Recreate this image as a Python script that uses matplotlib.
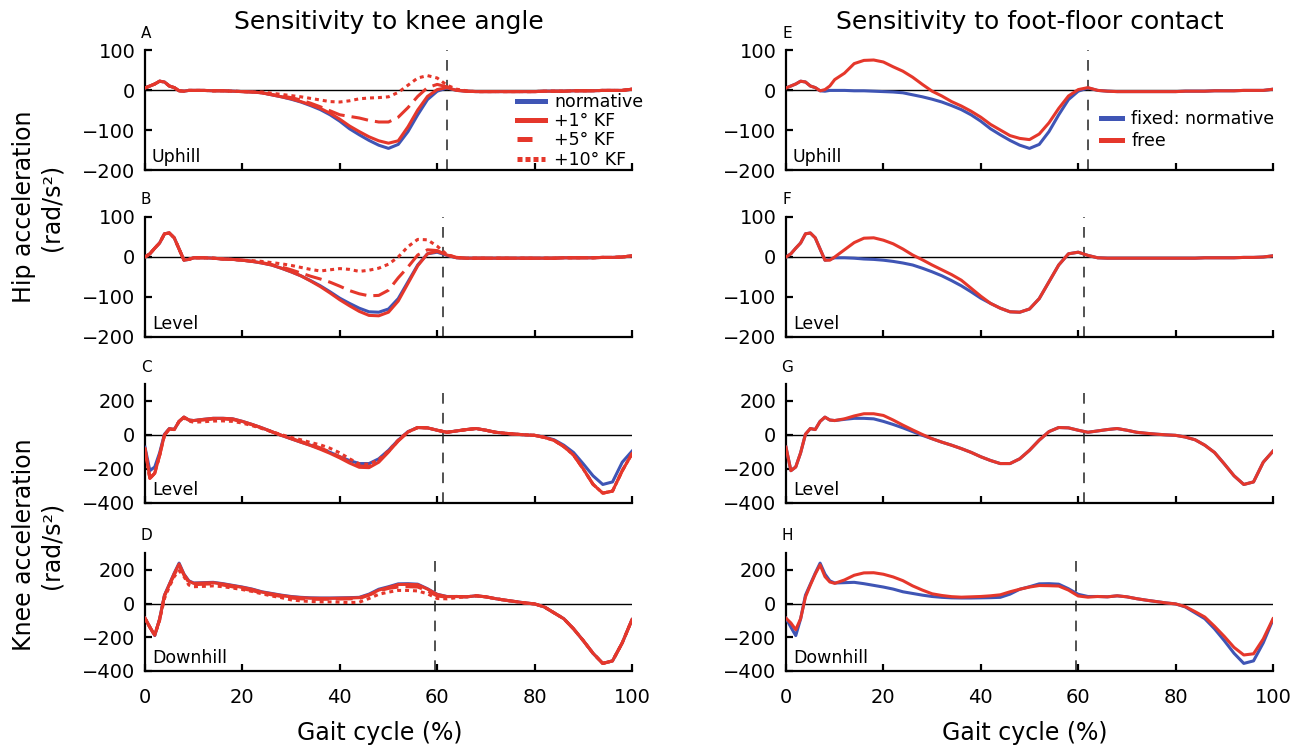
import matplotlib
matplotlib.use("Agg")
import matplotlib.pyplot as plt
from matplotlib.lines import Line2D

# ---------------- data ----------------
gait = [0, 1, 2, 3, 4, 5, 6, 7, 8, 9, 10,
        12, 14, 16, 18, 20, 22, 24, 26, 28, 30,
        32, 34, 36, 38, 40, 42, 44, 46, 48, 50,
        52, 54, 56, 58, 60, 62, 64, 66, 68, 70,
        72, 74, 76, 78, 80, 82, 84, 86, 88, 90,
        92, 94, 96, 98, 100]

hip_up_norm = [5, 10, 15, 22, 20, 10, 6, -2, -3, -1, -1,
               -1, -2, -2, -3, -4, -5, -7, -12, -17, -23,
               -30, -39, -49, -62, -78, -97, -112, -126, -138, -146,
               -136, -104, -62, -24, -3, 5, -1, -3, -4, -4,
               -4, -4, -4, -4, -4, -3, -3, -3, -2, -2,
               -2, -1, -1, -1, 2]
hip_up_kf1 = [5, 10, 15, 22, 20, 10, 6, -2, -3, -1, -1,
              -1, -2, -2, -3, -4, -5, -7, -12, -17, -22,
              -29, -37, -46, -58, -73, -90, -104, -117, -127, -133,
              -127, -92, -50, -16, 1, 6, -1, -3, -4, -4,
              -4, -4, -4, -4, -4, -3, -3, -3, -2, -2,
              -2, -1, -1, -1, 2]
hip_up_kf5 = [5, 10, 15, 22, 20, 10, 6, -2, -3, -1, -1,
              -1, -2, -2, -3, -4, -5, -7, -11, -15, -19,
              -25, -33, -42, -52, -62, -66, -70, -76, -80, -80,
              -68, -44, -16, 6, 14, 8, 0, -3, -4, -4,
              -4, -4, -4, -4, -4, -3, -3, -3, -2, -2,
              -2, -1, -1, -1, 2]
hip_up_kf10 = [5, 10, 15, 22, 20, 10, 6, -2, -3, -1, -1,
               -1, -2, -2, -3, -4, -5, -5, -8, -11, -14,
               -17, -21, -25, -29, -30, -27, -22, -20, -19, -17,
               -6, 12, 30, 36, 30, 12, 2, -2, -4, -4,
               -4, -4, -4, -4, -4, -3, -3, -3, -2, -2,
               -2, -1, -1, -1, 2]
hip_up_free = [5, 10, 15, 22, 20, 10, 6, -2, 1, 10, 26,
               42, 66, 74, 75, 70, 58, 47, 32, 14, -3,
               -15, -29, -40, -53, -68, -86, -100, -114, -121, -124,
               -110, -82, -46, -15, 1, 6, -1, -3, -4, -4,
               -4, -4, -4, -4, -4, -3, -3, -3, -2, -2,
               -2, -1, -1, -1, 2]

hip_lvl_norm = [0, 8, 22, 35, 58, 60, 48, 20, -8, -6, -2,
                -2, -3, -5, -6, -8, -11, -15, -20, -28, -37,
                -47, -59, -72, -87, -103, -116, -128, -137, -138, -130,
                -104, -62, -20, 8, 12, 4, -2, -3, -3, -3,
                -3, -3, -3, -3, -3, -3, -3, -2, -2, -2,
                -2, -1, -1, 0, 3]
hip_lvl_kf1 = [0, 8, 22, 35, 58, 60, 48, 20, -8, -6, -2,
               -2, -3, -5, -6, -8, -11, -15, -20, -28, -37,
               -47, -60, -74, -90, -107, -122, -136, -146, -147, -138,
               -110, -66, -22, 8, 14, 5, -2, -3, -3, -3,
               -3, -3, -3, -3, -3, -3, -3, -2, -2, -2,
               -2, -1, -1, 0, 3]
hip_lvl_kf5 = [0, 8, 22, 35, 58, 60, 48, 20, -8, -6, -2,
               -2, -3, -5, -6, -8, -11, -14, -19, -25, -32,
               -40, -48, -55, -63, -73, -84, -92, -97, -96, -83,
               -52, -25, 5, 18, 16, 5, -1, -3, -3, -3,
               -3, -3, -3, -3, -3, -3, -3, -2, -2, -2,
               -2, -1, -1, 0, 3]
hip_lvl_kf10 = [0, 8, 22, 35, 58, 60, 48, 20, -8, -6, -2,
                -2, -3, -5, -6, -8, -9, -11, -14, -17, -21,
                -26, -31, -35, -32, -29, -31, -36, -33, -28, -18,
                0, 26, 44, 43, 27, 6, -1, -3, -3, -3,
                -3, -3, -3, -3, -3, -3, -3, -2, -2, -2,
                -2, -1, -1, 0, 3]
hip_lvl_free = [0, 8, 22, 35, 58, 60, 48, 20, -8, -8, 0,
                18, 36, 47, 48, 42, 33, 20, 5, -7, -20,
                -32, -44, -58, -78, -98, -116, -128, -137, -138, -130,
                -104, -62, -20, 8, 12, 4, -2, -3, -3, -3,
                -3, -3, -3, -3, -3, -3, -3, -2, -2, -2,
                -2, -1, -1, 0, 3]

knee_lvl_norm = [-72, -210, -188, -105, 5, 38, 32, 80, 105, 88, 85,
                 92, 98, 98, 95, 80, 62, 42, 20, -2, -22,
                 -42, -60, -80, -102, -128, -150, -168, -168, -140, -90,
                 -30, 20, 44, 42, 28, 16, 24, 32, 38, 28,
                 16, 10, 5, 1, -2, -12, -28, -60, -103, -170,
                 -240, -291, -276, -160, -95]
knee_lvl_kf1 = [-80, -255, -225, -120, 0, 36, 32, 80, 105, 88, 85,
                92, 98, 98, 95, 80, 62, 42, 20, -2, -22,
                -42, -62, -84, -108, -135, -165, -190, -192, -160, -100,
                -35, 18, 44, 42, 28, 16, 24, 32, 38, 28,
                16, 10, 5, 1, -2, -14, -32, -68, -118, -200,
                -290, -342, -330, -210, -110]
knee_lvl_kf5 = [-80, -255, -225, -120, 0, 36, 32, 80, 105, 88, 85,
                88, 94, 94, 91, 77, 60, 41, 19, -2, -20,
                -38, -55, -76, -100, -128, -160, -182, -186, -155, -98,
                -34, 18, 44, 42, 28, 16, 24, 32, 38, 28,
                16, 10, 5, 1, -2, -14, -32, -68, -118, -200,
                -290, -342, -330, -210, -110]
knee_lvl_kf10 = [-80, -255, -225, -120, 0, 36, 32, 80, 100, 82, 75,
                 78, 82, 83, 80, 70, 55, 38, 20, 2, -14,
                 -28, -44, -58, -78, -105, -140, -170, -172, -145, -92,
                 -30, 18, 44, 42, 28, 16, 24, 32, 38, 28,
                 16, 10, 5, 1, -2, -14, -32, -68, -118, -200,
                 -290, -342, -330, -210, -110]
knee_lvl_free = [-72, -210, -188, -105, 5, 38, 32, 80, 105, 88, 85,
                 95, 112, 125, 125, 115, 88, 58, 30, 3, -22,
                 -42, -60, -80, -102, -128, -150, -168, -168, -140, -90,
                 -30, 20, 44, 42, 28, 16, 24, 32, 38, 28,
                 16, 10, 5, 1, -2, -12, -28, -60, -103, -170,
                 -240, -291, -276, -160, -95]

knee_dn_norm = [-87, -140, -190, -91, 50, 115, 180, 240, 175, 135, 122,
                124, 126, 118, 108, 98, 86, 70, 60, 50, 42,
                37, 34, 33, 33, 34, 35, 37, 56, 85, 100,
                117, 118, 115, 88, 55, 42, 42, 40, 46, 40,
                29, 20, 12, 4, -2, -20, -55, -90, -150, -220,
                -295, -355, -340, -233, -95]
knee_dn_kf1 = [-87, -140, -188, -93, 48, 112, 178, 235, 172, 132, 120,
               122, 124, 116, 106, 96, 84, 68, 58, 48, 40,
               35, 32, 31, 31, 32, 33, 35, 52, 80, 96,
               113, 114, 112, 86, 54, 41, 42, 40, 46, 40,
               29, 20, 12, 4, -2, -20, -55, -90, -150, -220,
               -295, -355, -340, -233, -95]
knee_dn_kf5 = [-87, -140, -188, -95, 45, 110, 170, 225, 170, 125, 112,
               115, 117, 110, 99, 88, 77, 62, 52, 42, 33,
               28, 26, 25, 26, 27, 28, 30, 50, 75, 90,
               98, 100, 98, 75, 45, 38, 42, 40, 46, 40,
               29, 20, 12, 4, -2, -20, -55, -90, -150, -220,
               -295, -355, -340, -233, -95]
knee_dn_kf10 = [-87, -140, -185, -100, 30, 100, 160, 195, 160, 110, 100,
                102, 105, 100, 92, 83, 72, 58, 45, 35, 22,
                16, 12, 10, 10, 8, 6, 8, 30, 55, 68,
                78, 78, 75, 58, 30, 28, 35, 40, 46, 40,
                29, 20, 12, 4, -2, -20, -55, -90, -150, -220,
                -295, -355, -340, -233, -95]
knee_dn_free = [-87, -115, -155, -90, 40, 110, 175, 230, 160, 128, 120,
                140, 168, 182, 183, 174, 158, 136, 105, 80, 58,
                48, 41, 38, 40, 42, 46, 52, 70, 85, 98,
                107, 106, 104, 80, 45, 38, 42, 40, 46, 40,
                29, 20, 12, 4, -2, -18, -48, -80, -135, -195,
                -260, -305, -298, -210, -90]

toe_off = [62.0, 61.2, 61.2, 59.5]
conditions = ["Uphill", "Level", "Level", "Downhill"]
letters_left = ["A", "B", "C", "D"]
letters_right = ["E", "F", "G", "H"]
xticks = [0, 20, 40, 60, 80, 100]
hip_ticks = [-200, -100, 0, 100]
knee_ticks = [-400, -200, 0, 200]
legend_left = ["normative", "+1° KF", "+5° KF", "+10° KF"]
legend_right = ["fixed: normative", "free"]

# ---------------- style ----------------
BLUE = "#3f55b5"
RED = "#e5372b"
W, H = 1294, 750
LW = 2.2
DASH5 = (5.5, 2.3)
DOT10 = (1.3, 1.3)

fig = plt.figure(figsize=(W / 100, H / 100), dpi=100)

col_left = [145, 786]
col_w = 487
rows = [(50, 170), (217, 337), (384, 503), (553, 671)]


def make_axes(col, row):
    top, bot = rows[row]
    return fig.add_axes([col_left[col] / W, 1 - bot / H, col_w / W, (bot - top) / H])


def style(ax, row):
    ax.set_xlim(0, 100)
    if row < 2:
        ax.set_ylim(-200, 100)
        ax.set_yticks(hip_ticks)
    else:
        ax.set_ylim(-400, 300)
        ax.set_yticks(knee_ticks)
    ax.set_xticks(xticks)
    for s in ["top", "right"]:
        ax.spines[s].set_visible(False)
    for s in ["left", "bottom"]:
        ax.spines[s].set_linewidth(1.6)
    ax.tick_params(axis="both", direction="in", length=5, width=1.6, labelsize=14)
    ax.tick_params(axis="y", pad=7)
    ax.tick_params(axis="x", pad=12, labelbottom=(row == 3))
    ax.set_facecolor("none")
    ax.axhline(0, color="black", lw=1.0, zorder=1)
    ax.axvline(toe_off[row], color="#222222", lw=1.1, dashes=(7, 6), zorder=1)
    ax.annotate(conditions[row], xy=(0, 0), xycoords="axes fraction",
                xytext=(5, 5.5), textcoords="offset points",
                ha="left", va="baseline", fontsize=12.5)


left_series = [
    (hip_up_norm, hip_up_kf1, hip_up_kf5, hip_up_kf10),
    (hip_lvl_norm, hip_lvl_kf1, hip_lvl_kf5, hip_lvl_kf10),
    (knee_lvl_norm, knee_lvl_kf1, knee_lvl_kf5, knee_lvl_kf10),
    (knee_dn_norm, knee_dn_kf1, knee_dn_kf5, knee_dn_kf10),
]
right_series = [
    (hip_up_norm, hip_up_free),
    (hip_lvl_norm, hip_lvl_free),
    (knee_lvl_norm, knee_lvl_free),
    (knee_dn_norm, knee_dn_free),
]

for r in range(4):
    axl = make_axes(0, r)
    style(axl, r)
    norm, k1, k5, k10 = left_series[r]
    axl.plot(gait, norm, color=BLUE, lw=LW, zorder=3)
    axl.plot(gait, k1, color=RED, lw=LW, zorder=4)
    axl.plot(gait, k5, color=RED, lw=LW, dashes=DASH5, zorder=5)
    axl.plot(gait, k10, color=RED, lw=LW, dashes=DOT10, zorder=6)
    top = rows[r][0]
    fig.text(146 / W, 1 - (top - 17) / H, letters_left[r], ha="center", va="center", fontsize=11)

    axr = make_axes(1, r)
    style(axr, r)
    nrm, free = right_series[r]
    axr.plot(gait, nrm, color=BLUE, lw=LW, zorder=3)
    axr.plot(gait, free, color=RED, lw=LW, zorder=4)
    fig.text(787 / W, 1 - (top - 17) / H, letters_right[r], ha="center", va="center", fontsize=11)

    if r == 0:
        hl = [Line2D([], [], color=BLUE, lw=3.6),
              Line2D([], [], color=RED, lw=3.6),
              Line2D([], [], color=RED, lw=3.6, dashes=(3, 3)),
              Line2D([], [], color=RED, lw=3.6, dashes=(1, 0.6))]
        axl.legend(hl, legend_left, loc="upper left", bbox_to_anchor=(0.764, 0.645),
                   frameon=False, borderpad=0, borderaxespad=0, handlelength=1.6,
                   handletextpad=0.55, labelspacing=0.08, fontsize=12.5)
        hr = [Line2D([], [], color=BLUE, lw=3.6), Line2D([], [], color=RED, lw=3.6)]
        axr.legend(hr, legend_right, loc="upper left", bbox_to_anchor=(0.647, 0.5),
                   frameon=False, borderpad=0, borderaxespad=0, handlelength=1.2,
                   handletextpad=0.55, labelspacing=0.22, fontsize=12.5)

# titles and labels
fig.text(388.5 / W, 1 - 22 / H, "Sensitivity to knee angle", ha="center", va="center", fontsize=18)
fig.text(1029.5 / W, 1 - 22 / H, "Sensitivity to foot-floor contact", ha="center", va="center", fontsize=18)
fig.text(380 / W, 1 - 733 / H, "Gait cycle (%)", ha="center", va="center", fontsize=17)
fig.text(1025 / W, 1 - 733 / H, "Gait cycle (%)", ha="center", va="center", fontsize=17)
fig.text(24 / W, 1 - 207 / H, "Hip acceleration", rotation=90, ha="center", va="center", fontsize=17)
fig.text(52 / W, 1 - 207 / H, "(rad/s²)", rotation=90, ha="center", va="center", fontsize=17)
fig.text(24 / W, 1 - 545 / H, "Knee acceleration", rotation=90, ha="center", va="center", fontsize=17)
fig.text(52 / W, 1 - 545 / H, "(rad/s²)", rotation=90, ha="center", va="center", fontsize=17)

fig.savefig("out.png", dpi=100, facecolor="white")
